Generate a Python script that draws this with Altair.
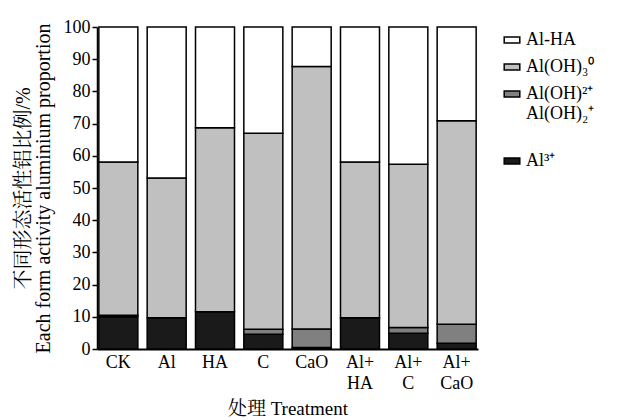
import altair as alt
import pandas as pd

categories = ["CK", "Al", "HA", "C", "CaO", "Al+HA", "Al+C", "Al+CaO"]
series_names = ["Al3+", "Al(OH)", "Al(OH)3", "Al-HA"]  # bottom -> top
al3 = [10.0, 9.7, 11.6, 4.6, 0.5, 9.7, 4.9, 1.8]
aloh = [0.5, 0.0, 0.0, 1.5, 5.7, 0.0, 1.8, 5.9]
aloh3 = [47.6, 43.4, 57.1, 60.9, 81.5, 48.4, 50.7, 63.2]
alha = [41.9, 46.9, 31.3, 33.0, 12.3, 41.9, 42.6, 29.1]
colors = ["#1a1a1a", "#808080", "#c0c0c0", "#ffffff"]

rows = []
for si, (name, vals) in enumerate(zip(series_names, [al3, aloh, aloh3, alha])):
    for c, v in zip(categories, vals):
        rows.append({"cat": c, "series": name, "value": v, "o": si})
df = pd.DataFrame(rows)

FONT = "Liberation Serif, Noto Serif CJK SC, Noto Sans CJK SC"

legend_order = series_names[::-1]
legend_colors = colors[::-1]

label_expr = ("datum.label == 'Al-HA' ? 'Al-HA' : datum.label == 'Al(OH)3' ? 'Al(OH)₃⁰' : "
              "datum.label == 'Al(OH)' ? ['Al(OH)²⁺', ' Al(OH)₂⁺', ' '] : 'Al³⁺'")

chart = alt.Chart(df).transform_filter("datum.value > 0").mark_bar(
    stroke="black", strokeWidth=1.5
).encode(
    x=alt.X("cat:N", sort=categories,
            scale=alt.Scale(paddingInner=0.193, paddingOuter=0.038),
            axis=alt.Axis(title="处理 Treatment", labelAngle=0, ticks=False,
                          labelExpr="indexof(datum.label, '+') > 0 ? ['Al+', slice(datum.label, 3)] : datum.label",
                          labelLineHeight=21, labelPadding=4,
                          domainColor="black", domainWidth=2,
                          titlePadding=7, titleFontSize=19)),
    y=alt.Y("value:Q", stack="zero",
            scale=alt.Scale(domain=[0, 100], nice=False),
            axis=alt.Axis(values=list(range(0, 101, 10)),
                          title=["不同形态活性铝比例/%", "Each form activity aluminium proportion"],
                          grid=False, tickSize=5, tickColor="black", tickWidth=1.5,
                          labelPadding=2, domainColor="black", domainWidth=1.5,
                          titlePadding=10, titleLineHeight=20, titleFontSize=20)),
    color=alt.Color("series:N",
                    scale=alt.Scale(domain=legend_order, range=legend_colors),
                    legend=alt.Legend(title=None, orient="none", legendX=406, legendY=4,
                                      symbolType="M-1.3,-0.5H1.3V0.5H-1.3Z", symbolSize=144,
                                      symbolStrokeColor="black", symbolStrokeWidth=1.5,
                                      symbolOpacity=1, labelExpr=label_expr,
                                      labelFontSize=18, labelFont=FONT, labelColor="black",
                                      rowPadding=9, labelOffset=5,
                                      padding=0)),
    order=alt.Order("o:Q"),
).properties(
    width=381, height=322,
    autosize=alt.AutoSizeParams(type="none"),
    padding={"left": 89, "top": 19, "right": 135, "bottom": 80},
).configure_view(stroke=None).configure_axis(
    labelFont=FONT, titleFont=FONT, labelFontSize=18,
    labelColor="black", titleColor="black", titleFontWeight="normal",
)

chart.save("out.html", embed_options={"renderer": "svg", "actions": False})
